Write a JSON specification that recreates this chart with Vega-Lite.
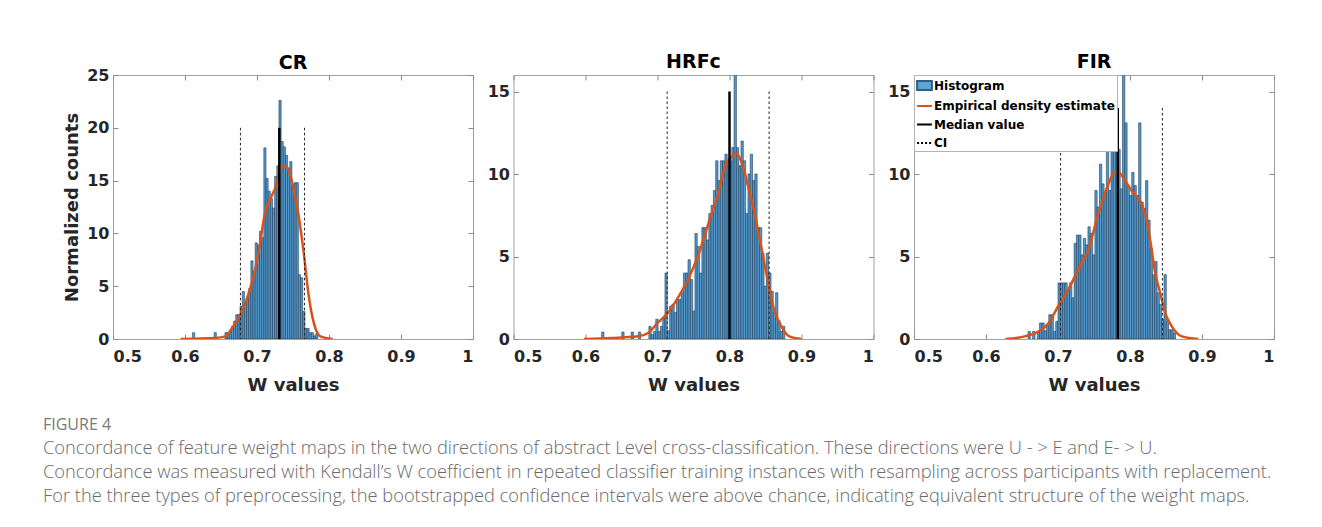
{
  "$schema": "https://vega.github.io/schema/vega-lite/v6.json",
  "background": "white",
  "padding": {"left": 43, "top": 52, "right": 10, "bottom": 10},
  "spacing": 12.5,
  "resolve": {"scale": {"fill": "independent", "stroke": "independent", "shape": "independent", "strokeDash": "independent"}, "legend": {"fill": "independent", "stroke": "independent", "shape": "independent", "strokeDash": "independent"}},
  "config": {
    "view": {"stroke": "#a0a0a0", "strokeWidth": 1},
    "axis": {
      "grid": false, "domain": false,
      "labelFont": "DejaVu Sans", "labelFontWeight": "bold", "labelFontSize": 16, "labelColor": "#262626",
      "titleFont": "DejaVu Sans", "titleFontWeight": "bold", "titleFontSize": 18, "titleColor": "#262626",
      "tickColor": "#8a8a8a", "tickSize": -5, "labelPadding": 9, "titlePadding": 5
    },
    "axisX": {"labelPadding": 14, "titlePadding": 12},
    "legend": {
      "orient": "top-left", "offset": 0, "padding": 2,
      "fillColor": "#ffffff", "strokeColor": "#b4b4b4",
      "labelFont": "DejaVu Sans", "labelFontWeight": "bold", "labelFontSize": 12, "labelColor": "#000000",
      "labelOffset": 1, "rowPadding": 3.5, "labelLimit": 400,
      "symbolSize": 220, "symbolStrokeWidth": 2, "symbolOpacity": 1
    }
  },
  "title": {
    "text": "FIGURE 4",
    "subtitle": [
      "Concordance of feature weight maps in the two directions of abstract Level cross-classification. These directions were U - > E and E- > U.",
      "Concordance was measured with Kendall’s W coefficient in repeated classifier training instances with resampling across participants with replacement.",
      "For the three types of preprocessing, the bootstrapped confidence intervals were above chance, indicating equivalent structure of the weight maps."
    ],
    "orient": "bottom", "anchor": "start", "frame": "group", "offset": 22, "dx": -70,
    "font": "Open Sans", "fontSize": 16, "fontWeight": "normal", "color": "#7a7a7a",
    "subtitleFont": "Open Sans", "subtitleFontSize": 18.3, "subtitleFontWeight": 300, "subtitleColor": "#6a6a6a",
    "subtitleLineHeight": 24, "subtitlePadding": 7
  },
  "datasets": {
    "cr_hist": [
      {"w0":0.6105,"w1":0.6135,"h":0.6},{"w0":0.6405,"w1":0.6435,"h":0.6},{"w0":0.6555,"w1":0.6585,"h":0.6},
      {"w0":0.6585,"w1":0.6615,"h":0.6},{"w0":0.6615,"w1":0.6645,"h":0.8},{"w0":0.6645,"w1":0.6675,"h":1.2},
      {"w0":0.6675,"w1":0.6705,"h":1.7},{"w0":0.6705,"w1":0.6735,"h":2.3},{"w0":0.6735,"w1":0.6765,"h":2.3},
      {"w0":0.6765,"w1":0.6795,"h":3.1},{"w0":0.6795,"w1":0.6825,"h":4.5},{"w0":0.6825,"w1":0.6855,"h":3.4},
      {"w0":0.6855,"w1":0.6885,"h":4.0},{"w0":0.6885,"w1":0.6915,"h":4.8},{"w0":0.6915,"w1":0.6945,"h":7.4},
      {"w0":0.6945,"w1":0.6975,"h":6.4},{"w0":0.6975,"w1":0.7005,"h":9.1},{"w0":0.7005,"w1":0.7035,"h":8.9},
      {"w0":0.7035,"w1":0.7065,"h":10.2},{"w0":0.7065,"w1":0.7095,"h":9.6},{"w0":0.7095,"w1":0.7125,"h":18.1},
      {"w0":0.7125,"w1":0.7155,"h":15.2},{"w0":0.7155,"w1":0.7185,"h":14.0},{"w0":0.7185,"w1":0.7215,"h":13.3},
      {"w0":0.7215,"w1":0.7245,"h":12.4},{"w0":0.7245,"w1":0.7275,"h":15.4},{"w0":0.7275,"w1":0.7305,"h":16.4},
      {"w0":0.7305,"w1":0.7335,"h":22.6},{"w0":0.7335,"w1":0.7365,"h":18.7},{"w0":0.7365,"w1":0.7395,"h":18.2},
      {"w0":0.7395,"w1":0.7425,"h":17.4},{"w0":0.7425,"w1":0.7455,"h":16.2},{"w0":0.7455,"w1":0.7485,"h":16.8},
      {"w0":0.7485,"w1":0.7515,"h":14.6},{"w0":0.7515,"w1":0.7545,"h":14.8},{"w0":0.7545,"w1":0.7575,"h":14.8},
      {"w0":0.7575,"w1":0.7605,"h":6.1},{"w0":0.7605,"w1":0.7635,"h":5.8},{"w0":0.7635,"w1":0.7665,"h":2.6},
      {"w0":0.7665,"w1":0.7695,"h":1.0},{"w0":0.7695,"w1":0.7725,"h":1.0},{"w0":0.7725,"w1":0.7755,"h":0.6},
      {"w0":0.7755,"w1":0.7785,"h":0.6},{"w0":0.7785,"w1":0.7815,"h":0.3},{"w0":0.7815,"w1":0.7845,"h":0.5}
    ],
    "cr_dens": [
      {"w":0.594,"d":0},{"w":0.642,"d":0.1},{"w":0.656,"d":0.25},{"w":0.665,"d":1.0},{"w":0.678,"d":2.46},
      {"w":0.690,"d":4.66},{"w":0.702,"d":8.1},{"w":0.711,"d":11.9},{"w":0.720,"d":13.5},{"w":0.727,"d":14.6},
      {"w":0.732,"d":16.0},{"w":0.737,"d":16.4},{"w":0.744,"d":16.0},{"w":0.751,"d":14.1},{"w":0.758,"d":11.6},
      {"w":0.765,"d":8.1},{"w":0.772,"d":4.0},{"w":0.779,"d":1.5},{"w":0.788,"d":0.25},{"w":0.805,"d":0}
    ],
    "cr_med": [{"w":0.731,"h":20}],
    "cr_ci": [{"w":0.677,"h":20},{"w":0.766,"h":20}],
    "hrfc_hist": [
      {"w0":0.6224,"w1":0.6256,"h":0.42},{"w0":0.6504,"w1":0.6536,"h":0.42},{"w0":0.6634,"w1":0.6666,"h":0.42},
      {"w0":0.6734,"w1":0.6766,"h":0.42},
      {"w0":0.688,"w1":0.6912,"h":0.76},{"w0":0.6912,"w1":0.6944,"h":0.26},{"w0":0.6944,"w1":0.6976,"h":0.46},
      {"w0":0.6976,"w1":0.7008,"h":1.2},{"w0":0.7008,"w1":0.704,"h":0.46},{"w0":0.704,"w1":0.7072,"h":0.77},
      {"w0":0.7072,"w1":0.7104,"h":1.27},{"w0":0.7104,"w1":0.7136,"h":4.0},{"w0":0.7136,"w1":0.7168,"h":0.5},
      {"w0":0.7168,"w1":0.72,"h":2.0},{"w0":0.72,"w1":0.7232,"h":2.1},{"w0":0.7232,"w1":0.7264,"h":1.6},
      {"w0":0.7264,"w1":0.7296,"h":2.4},{"w0":0.7296,"w1":0.7328,"h":2.4},{"w0":0.7328,"w1":0.736,"h":2.8},
      {"w0":0.736,"w1":0.7392,"h":4.0},{"w0":0.7392,"w1":0.7424,"h":4.0},{"w0":0.7424,"w1":0.7456,"h":4.8},
      {"w0":0.7456,"w1":0.7488,"h":3.6},{"w0":0.7488,"w1":0.752,"h":1.7},{"w0":0.752,"w1":0.7552,"h":6.4},
      {"w0":0.7552,"w1":0.7584,"h":5.6},{"w0":0.7584,"w1":0.7616,"h":4.0},{"w0":0.7616,"w1":0.7648,"h":6.75},
      {"w0":0.7648,"w1":0.768,"h":6.75},{"w0":0.768,"w1":0.7712,"h":6.0},{"w0":0.7712,"w1":0.7744,"h":7.6},
      {"w0":0.7744,"w1":0.7776,"h":8.1},{"w0":0.7776,"w1":0.7808,"h":9.0},{"w0":0.7808,"w1":0.784,"h":10.8},
      {"w0":0.784,"w1":0.7872,"h":9.6},{"w0":0.7872,"w1":0.7904,"h":10.8},{"w0":0.7904,"w1":0.7936,"h":10.8},
      {"w0":0.7936,"w1":0.7968,"h":11.2},{"w0":0.7968,"w1":0.8,"h":10.8},{"w0":0.8,"w1":0.8032,"h":10.8},
      {"w0":0.8032,"w1":0.8064,"h":11.6},{"w0":0.8064,"w1":0.8096,"h":16.5},{"w0":0.8096,"w1":0.8128,"h":11.6},
      {"w0":0.8128,"w1":0.816,"h":10.5},{"w0":0.816,"w1":0.8192,"h":12.0},{"w0":0.8192,"w1":0.8224,"h":10.8},
      {"w0":0.8224,"w1":0.8256,"h":7.6},{"w0":0.8256,"w1":0.8288,"h":10.0},{"w0":0.8288,"w1":0.832,"h":11.2},
      {"w0":0.832,"w1":0.8352,"h":9.6},{"w0":0.8352,"w1":0.8384,"h":10.0},{"w0":0.8384,"w1":0.8416,"h":6.75},
      {"w0":0.8416,"w1":0.8448,"h":6.75},{"w0":0.8448,"w1":0.848,"h":5.2},{"w0":0.848,"w1":0.8512,"h":3.2},
      {"w0":0.8512,"w1":0.8544,"h":5.2},{"w0":0.8544,"w1":0.8576,"h":4.0},{"w0":0.8576,"w1":0.8608,"h":2.9},
      {"w0":0.8608,"w1":0.864,"h":1.6},{"w0":0.864,"w1":0.8672,"h":2.8},{"w0":0.8672,"w1":0.8704,"h":1.1},
      {"w0":0.8704,"w1":0.8736,"h":0.46},{"w0":0.8736,"w1":0.8768,"h":0.77}
    ],
    "hrfc_dens": [
      {"w":0.598,"d":0},{"w":0.636,"d":0.06},{"w":0.673,"d":0.16},{"w":0.687,"d":0.36},{"w":0.700,"d":0.97},
      {"w":0.714,"d":1.57},{"w":0.728,"d":2.48},{"w":0.742,"d":3.58},{"w":0.756,"d":5.0},{"w":0.770,"d":6.9},
      {"w":0.784,"d":8.8},{"w":0.795,"d":10.6},{"w":0.802,"d":11.0},{"w":0.809,"d":11.25},{"w":0.816,"d":10.8},
      {"w":0.825,"d":9.4},{"w":0.835,"d":7.6},{"w":0.844,"d":5.6},{"w":0.853,"d":3.58},{"w":0.862,"d":1.77},
      {"w":0.872,"d":0.77},{"w":0.883,"d":0.16},{"w":0.900,"d":0}
    ],
    "hrfc_med": [{"w":0.800,"h":15}],
    "hrfc_ci": [{"w":0.7134,"h":15},{"w":0.855,"h":15}],
    "fir_hist": [
      {"w0":0.6584,"w1":0.6616,"h":0.46},{"w0":0.6648,"w1":0.668,"h":0.46},{"w0":0.6712,"w1":0.6744,"h":0.46},
      {"w0":0.6744,"w1":0.6776,"h":0.97},{"w0":0.6776,"w1":0.6808,"h":0.97},{"w0":0.6808,"w1":0.684,"h":0.5},
      {"w0":0.684,"w1":0.6872,"h":0.8},{"w0":0.6872,"w1":0.6904,"h":1.47},{"w0":0.6904,"w1":0.6936,"h":1.47},
      {"w0":0.6936,"w1":0.6968,"h":0.46},{"w0":0.6968,"w1":0.7,"h":1.07},{"w0":0.7,"w1":0.7032,"h":3.4},
      {"w0":0.7032,"w1":0.7064,"h":3.4},{"w0":0.7064,"w1":0.7096,"h":3.4},{"w0":0.7096,"w1":0.7128,"h":3.4},
      {"w0":0.7128,"w1":0.716,"h":2.9},{"w0":0.716,"w1":0.7192,"h":3.4},{"w0":0.7192,"w1":0.7224,"h":2.5},
      {"w0":0.7224,"w1":0.7256,"h":5.8},{"w0":0.7256,"w1":0.7288,"h":6.3},{"w0":0.7288,"w1":0.732,"h":6.3},
      {"w0":0.732,"w1":0.7352,"h":5.1},{"w0":0.7352,"w1":0.7384,"h":6.1},{"w0":0.7384,"w1":0.7416,"h":5.7},
      {"w0":0.7416,"w1":0.7448,"h":6.8},{"w0":0.7448,"w1":0.748,"h":6.4},{"w0":0.748,"w1":0.7512,"h":5.1},
      {"w0":0.7512,"w1":0.7544,"h":9.0},{"w0":0.7544,"w1":0.7576,"h":8.0},{"w0":0.7576,"w1":0.7608,"h":10.6},
      {"w0":0.7608,"w1":0.764,"h":9.4},{"w0":0.764,"w1":0.7672,"h":8.9},{"w0":0.7672,"w1":0.7704,"h":11.5},
      {"w0":0.7704,"w1":0.7736,"h":9.0},{"w0":0.7736,"w1":0.7768,"h":11.5},{"w0":0.7768,"w1":0.78,"h":11.5},
      {"w0":0.78,"w1":0.7832,"h":11.5},{"w0":0.7832,"w1":0.7864,"h":11.5},{"w0":0.7864,"w1":0.7896,"h":9.1},
      {"w0":0.7896,"w1":0.7928,"h":16.5},{"w0":0.7928,"w1":0.796,"h":13.1},{"w0":0.796,"w1":0.7992,"h":9.3},
      {"w0":0.7992,"w1":0.8024,"h":8.7},{"w0":0.8024,"w1":0.8056,"h":10.1},{"w0":0.8056,"w1":0.8088,"h":9.3},
      {"w0":0.8088,"w1":0.812,"h":8.7},{"w0":0.812,"w1":0.8152,"h":13.1},{"w0":0.8152,"w1":0.8184,"h":8.3},
      {"w0":0.8184,"w1":0.8216,"h":7.9},{"w0":0.8216,"w1":0.8248,"h":9.6},{"w0":0.8248,"w1":0.828,"h":7.2},
      {"w0":0.828,"w1":0.8312,"h":5.5},{"w0":0.8312,"w1":0.8344,"h":3.9},{"w0":0.8344,"w1":0.8376,"h":4.7},
      {"w0":0.8376,"w1":0.8408,"h":2.8},{"w0":0.8408,"w1":0.844,"h":2.1},{"w0":0.844,"w1":0.8472,"h":1.2},
      {"w0":0.8472,"w1":0.8504,"h":3.9},{"w0":0.8504,"w1":0.8536,"h":1.07},{"w0":0.8536,"w1":0.8568,"h":0.56},
      {"w0":0.8568,"w1":0.86,"h":0.56},{"w0":0.86,"w1":0.8632,"h":0.36}
    ],
    "fir_dens": [
      {"w":0.627,"d":0},{"w":0.654,"d":0.16},{"w":0.673,"d":0.46},{"w":0.687,"d":0.97},{"w":0.700,"d":1.97},
      {"w":0.714,"d":2.98},{"w":0.728,"d":4.19},{"w":0.742,"d":5.4},{"w":0.756,"d":7.6},{"w":0.770,"d":9.4},
      {"w":0.779,"d":10.1},{"w":0.784,"d":10.1},{"w":0.793,"d":9.6},{"w":0.802,"d":9.0},{"w":0.816,"d":8.2},
      {"w":0.821,"d":7.6},{"w":0.828,"d":6.0},{"w":0.835,"d":4.0},{"w":0.842,"d":2.78},{"w":0.849,"d":1.57},
      {"w":0.858,"d":0.77},{"w":0.872,"d":0.16},{"w":0.895,"d":0}
    ],
    "fir_med": [{"w":0.783,"h":14}],
    "fir_ci": [{"w":0.7036,"h":14,"series":"CI"},{"w":0.845,"h":14,"series":"CI"}]
  },
  "hconcat": [
    {
      "title": {"text": "CR", "font": "DejaVu Sans", "fontSize": 19, "fontWeight": "bold", "color": "#000000", "offset": -6},
      "width": 360, "height": 264,
      "resolve": {"axis": {"x": "independent", "y": "independent"}},
      "layer": [
        {"data": {"name": "cr_hist"}, "mark": {"type": "rect", "fill": "#5499cc", "stroke": "#1f3f5c", "strokeWidth": 0.6, "clip": true},
         "encoding": {
           "x": {"field": "w0", "type": "quantitative", "scale": {"domain": [0.5, 1], "nice": false, "zero": false},
                 "axis": {"values": [0.5, 0.6, 0.7, 0.8, 0.9, 1], "format": "~g", "title": "W values"}},
           "x2": {"field": "w1"},
           "y": {"field": "h", "type": "quantitative", "scale": {"domain": [0, 25], "nice": false},
                 "axis": {"values": [0, 5, 10, 15, 20, 25], "title": "Normalized counts"}},
           "y2": {"datum": 0}}},
        {"data": {"name": "cr_dens"}, "mark": {"type": "line", "stroke": "#d95319", "strokeWidth": 2.5, "clip": true, "interpolate": "monotone"},
         "encoding": {"x": {"field": "w", "type": "quantitative", "axis": null}, "y": {"field": "d", "type": "quantitative", "axis": null}}},
        {"data": {"name": "cr_med"}, "mark": {"type": "rule", "stroke": "#000000", "strokeWidth": 2.5},
         "encoding": {"x": {"field": "w", "type": "quantitative", "axis": null}, "y": {"field": "h", "type": "quantitative", "axis": null}, "y2": {"datum": 0}}},
        {"data": {"name": "cr_ci"}, "mark": {"type": "rule", "stroke": "#222222", "strokeWidth": 1, "strokeDash": [2.5, 2.5]},
         "encoding": {
           "x": {"field": "w", "type": "quantitative", "axis": {"orient": "top", "labels": false, "title": null, "values": [0.5, 0.6, 0.7, 0.8, 0.9, 1]}},
           "y": {"field": "h", "type": "quantitative", "axis": {"orient": "right", "labels": false, "title": null, "values": [0, 5, 10, 15, 20, 25]}},
           "y2": {"datum": 0}}}
      ]
    },
    {
      "title": {"text": "HRFc", "font": "DejaVu Sans", "fontSize": 19, "fontWeight": "bold", "color": "#000000", "offset": 3},
      "width": 360, "height": 264,
      "resolve": {"axis": {"x": "independent", "y": "independent"}},
      "layer": [
        {"data": {"name": "hrfc_hist"}, "mark": {"type": "rect", "fill": "#5499cc", "stroke": "#1f3f5c", "strokeWidth": 0.6, "clip": true},
         "encoding": {
           "x": {"field": "w0", "type": "quantitative", "scale": {"domain": [0.5, 1], "nice": false, "zero": false},
                 "axis": {"values": [0.5, 0.6, 0.7, 0.8, 0.9, 1], "format": "~g", "title": "W values"}},
           "x2": {"field": "w1"},
           "y": {"field": "h", "type": "quantitative", "scale": {"domain": [0, 16], "nice": false},
                 "axis": {"values": [0, 5, 10, 15], "title": null}},
           "y2": {"datum": 0}}},
        {"data": {"name": "hrfc_dens"}, "mark": {"type": "line", "stroke": "#d95319", "strokeWidth": 2.5, "clip": true, "interpolate": "monotone"},
         "encoding": {"x": {"field": "w", "type": "quantitative", "axis": null}, "y": {"field": "d", "type": "quantitative", "axis": null}}},
        {"data": {"name": "hrfc_med"}, "mark": {"type": "rule", "stroke": "#000000", "strokeWidth": 2.5},
         "encoding": {"x": {"field": "w", "type": "quantitative", "axis": null}, "y": {"field": "h", "type": "quantitative", "axis": null}, "y2": {"datum": 0}}},
        {"data": {"name": "hrfc_ci"}, "mark": {"type": "rule", "stroke": "#222222", "strokeWidth": 1, "strokeDash": [2.5, 2.5]},
         "encoding": {
           "x": {"field": "w", "type": "quantitative", "axis": {"orient": "top", "labels": false, "title": null, "values": [0.5, 0.6, 0.7, 0.8, 0.9, 1]}},
           "y": {"field": "h", "type": "quantitative", "axis": {"orient": "right", "labels": false, "title": null, "values": [0, 5, 10, 15]}},
           "y2": {"datum": 0}}}
      ]
    },
    {
      "title": {"text": "FIR", "font": "DejaVu Sans", "fontSize": 19, "fontWeight": "bold", "color": "#000000", "offset": 3},
      "width": 360, "height": 264,
      "resolve": {"axis": {"x": "independent", "y": "independent"}},
      "layer": [
        {"data": {"name": "fir_hist"}, "mark": {"type": "rect", "fill": "#5499cc", "stroke": "#1f3f5c", "strokeWidth": 0.6, "clip": true},
         "encoding": {
           "x": {"field": "w0", "type": "quantitative", "scale": {"domain": [0.5, 1], "nice": false, "zero": false},
                 "axis": {"values": [0.5, 0.6, 0.7, 0.8, 0.9, 1], "format": "~g", "title": "W values"}},
           "x2": {"field": "w1"},
           "y": {"field": "h", "type": "quantitative", "scale": {"domain": [0, 16], "nice": false},
                 "axis": {"values": [0, 5, 10, 15], "title": null}},
           "y2": {"datum": 0}}},
        {"data": {"name": "fir_dens"}, "mark": {"type": "line", "stroke": "#d95319", "strokeWidth": 2.5, "clip": true, "interpolate": "monotone"},
         "encoding": {"x": {"field": "w", "type": "quantitative", "axis": null}, "y": {"field": "d", "type": "quantitative", "axis": null}}},
        {"data": {"name": "fir_med"}, "mark": {"type": "rule", "stroke": "#000000", "strokeWidth": 2.5},
         "encoding": {"x": {"field": "w", "type": "quantitative", "axis": null}, "y": {"field": "h", "type": "quantitative", "axis": null}, "y2": {"datum": 0}}},
        {"data": {"name": "fir_ci"}, "mark": {"type": "rule", "stroke": "#222222", "strokeWidth": 1, "strokeDash": [2.5, 2.5]},
         "encoding": {
           "x": {"field": "w", "type": "quantitative", "axis": {"orient": "top", "labels": false, "title": null, "values": [0.5, 0.6, 0.7, 0.8, 0.9, 1]}},
           "y": {"field": "h", "type": "quantitative", "axis": {"orient": "right", "labels": false, "title": null, "values": [0, 5, 10, 15]}},
           "y2": {"datum": 0}}},
        {"data": {"name": "fir_ci"}, "mark": {"type": "point", "filled": true, "opacity": 0},
         "encoding": {
           "x": {"field": "w", "type": "quantitative", "axis": null},
           "y": {"field": "h", "type": "quantitative", "axis": null},
           "fill": {"field": "series", "type": "nominal", "legend": {"title": null},
             "scale": {"domain": ["Histogram", "Empirical density estimate", "Median value", "CI"], "range": ["#5fa4d4", "transparent", "transparent", "transparent"]}},
           "stroke": {"field": "series", "type": "nominal", "legend": {"title": null},
             "scale": {"domain": ["Histogram", "Empirical density estimate", "Median value", "CI"], "range": ["#2f5f86", "#d95319", "#000000", "#000000"]}},
           "shape": {"field": "series", "type": "nominal", "legend": {"title": null},
             "scale": {"domain": ["Histogram", "Empirical density estimate", "Median value", "CI"], "range": ["M-1,-0.6H1V0.6H-1Z", "stroke", "stroke", "stroke"]}},
           "strokeDash": {"field": "series", "type": "nominal", "legend": {"title": null},
             "scale": {"domain": ["Histogram", "Empirical density estimate", "Median value", "CI"], "range": [[1, 0], [1, 0], [1, 0], [2, 2]]}}
         }}
      ]
    }
  ]
}
